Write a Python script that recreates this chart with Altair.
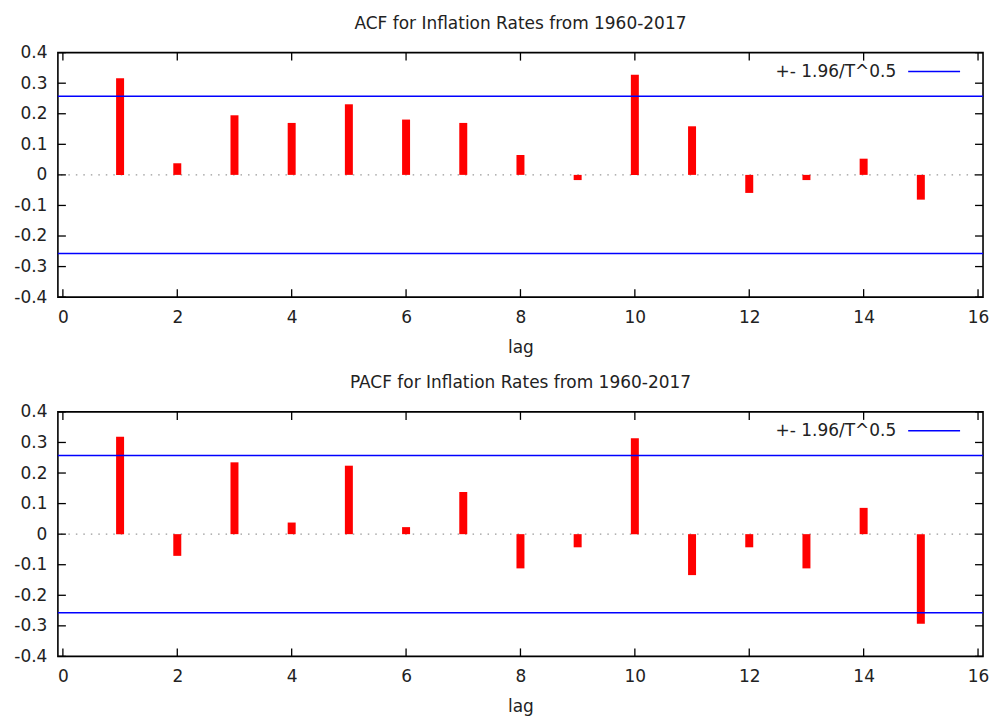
import altair as alt
import pandas as pd

lags = list(range(1, 16))
acf_values = [0.316, 0.038, 0.195, 0.170, 0.231, 0.181, 0.170, 0.065, -0.017,
              0.328, 0.159, -0.059, -0.017, 0.053, -0.081]
pacf_values = [0.319, -0.071, 0.235, 0.038, 0.224, 0.023, 0.138, -0.112, -0.043,
               0.314, -0.134, -0.043, -0.112, 0.086, -0.293]
bound = 0.2574  # 1.96 / sqrt(58)
x_ticks = [0, 2, 4, 6, 8, 10, 12, 14, 16]
y_ticks = [-0.4, -0.3, -0.2, -0.1, 0, 0.1, 0.2, 0.3, 0.4]
legend_label = "+- 1.96/T^0.5"

W, H = 927, 245
FONT = "DejaVu Sans"
FS = 17
TXT = "#222222"

xscale = alt.Scale(domain=[0, 16], nice=False, zero=False)
yscale = alt.Scale(domain=[-0.4, 0.4], nice=False, zero=False)

xaxis = alt.Axis(values=x_ticks, title="lag", tickSize=0, domain=False,
                 grid=False, labelPadding=12, titlePadding=14,
                 labelExpr="toString(datum.value)", labelOverlap=False,
                 labelFont=FONT, labelFontSize=FS, labelColor=TXT,
                 titleFont=FONT, titleFontSize=FS, titleColor=TXT,
                 titleFontWeight="normal")
yaxis = alt.Axis(values=y_ticks, title=None, tickSize=0, domain=False,
                 grid=False, labelPadding=11, labelOverlap=False,
                 labelExpr="toString(datum.value)",
                 labelFont=FONT, labelFontSize=FS, labelColor=TXT)


def panel(values, title):
    df = pd.DataFrame({"lag": lags, "value": values})
    xt = pd.DataFrame({"t": x_ticks})
    yt = pd.DataFrame({"t": y_ticks})
    bd = pd.DataFrame({"b": [bound, -bound]})

    zero = alt.Chart(pd.DataFrame({"z": [0]})).mark_rule(
        color="#999999", strokeDash=[1.5, 6], strokeWidth=1.2
    ).encode(y=alt.Y("z:Q", scale=yscale, axis=yaxis))

    bars = alt.Chart(df).mark_bar(color="#ff0000", size=8).encode(
        x=alt.X("lag:Q", scale=xscale, axis=xaxis),
        y=alt.Y("value:Q", scale=yscale, axis=yaxis),
        y2=alt.datum(0),
    )

    blue = alt.Chart(bd).mark_rule(color="#0000ff", strokeWidth=1.5).encode(
        y=alt.Y("b:Q", scale=yscale, axis=yaxis)
    )

    xt_bottom = alt.Chart(xt).mark_rule(color="black", strokeWidth=1.3).encode(
        x=alt.X("t:Q", scale=xscale, axis=xaxis), y=alt.value(H), y2=alt.value(H - 8))
    xt_top = alt.Chart(xt).mark_rule(color="black", strokeWidth=1.3).encode(
        x=alt.X("t:Q", scale=xscale, axis=xaxis), y=alt.value(0), y2=alt.value(8))
    yt_left = alt.Chart(yt).mark_rule(color="black", strokeWidth=1.3).encode(
        y=alt.Y("t:Q", scale=yscale, axis=yaxis), x=alt.value(0), x2=alt.value(8))
    yt_right = alt.Chart(yt).mark_rule(color="black", strokeWidth=1.3).encode(
        y=alt.Y("t:Q", scale=yscale, axis=yaxis), x=alt.value(W), x2=alt.value(W - 8))

    leg = pd.DataFrame({"label": [legend_label]})
    leg_text = alt.Chart(leg).mark_text(
        align="right", baseline="middle", font=FONT, fontSize=FS, color=TXT
    ).encode(text="label:N", x=alt.value(W - 87), y=alt.value(19))
    leg_line = alt.Chart(leg).mark_rule(color="#0000ff", strokeWidth=1.5).encode(
        x=alt.value(W - 75), x2=alt.value(W - 23), y=alt.value(19))

    return alt.layer(
        zero, bars, blue, xt_bottom, xt_top, yt_left, yt_right, leg_text, leg_line
    ).properties(
        width=W, height=H,
        title=alt.TitleParams(title, anchor="middle", frame="group",
                              font=FONT, fontSize=FS, fontWeight="normal",
                              color=TXT, offset=11),
    )


chart = alt.vconcat(
    panel(acf_values, "ACF for Inflation Rates from 1960-2017"),
    panel(pacf_values, "PACF for Inflation Rates from 1960-2017"),
    spacing=17,
).configure_view(
    stroke="black", strokeWidth=1.6
).properties(background="white")

chart.save("out.html", embed_options={"renderer": "svg", "actions": False})
